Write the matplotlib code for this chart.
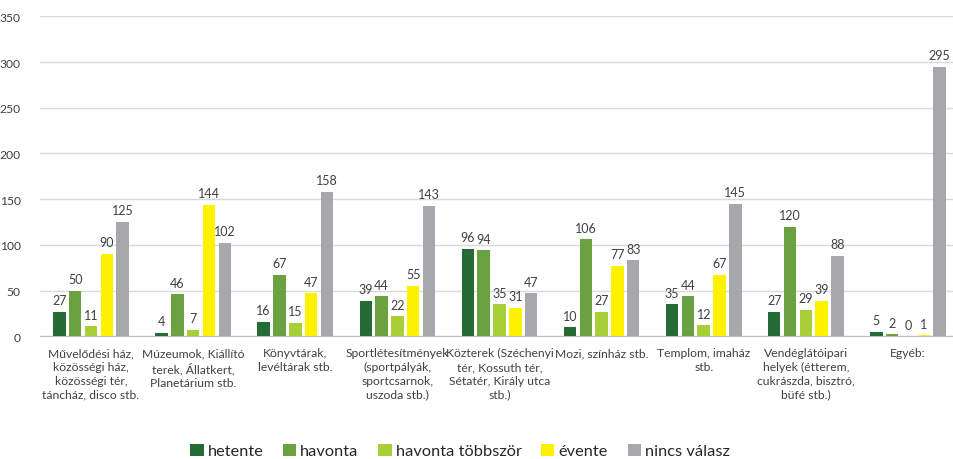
import matplotlib.pyplot as plt
import numpy as np

# Data
categories = [
    "Művelődési ház,\nközösségi ház,\nközösségi tér,\ntáncház, disco stb.",
    "Múzeumok, Kiállító\nterek, Állatkert,\nPlanetárium stb.",
    "Könyvtárak,\nlevéltárak stb.",
    "Sportlétesítmények\n(sportpályák,\nsportcsarnok,\nuszoda stb.)",
    "Közterek (Széchenyi\ntér, Kossuth tér,\nSétatér, Király utca\nstb.)",
    "Mozi, színház stb.",
    "Templom, imaház\nstb.",
    "Vendéglátóipari\nhelyek (étterem,\ncukrászda, bisztró,\nbüfé stb.)",
    "Egyéb:",
]
series_names = ["hetente", "havonta", "havonta többször", "évente", "nincs válasz"]
hetente = [27, 4, 16, 39, 96, 10, 35, 27, 5]
havonta = [50, 46, 67, 44, 94, 106, 44, 120, 2]
havonta_tobbszor = [11, 7, 15, 22, 35, 27, 12, 29, 0]
evente = [90, 144, 47, 55, 31, 77, 67, 39, 1]
nincs_valasz = [125, 102, 158, 143, 47, 83, 145, 88, 295]
y_ticks = [0, 50, 100, 150, 200, 250, 300, 350]

colors = ["#246B35", "#6AA242", "#A8CF38", "#FFF200", "#A7A8AB"]
plt.rcParams['font.family'] = ['Lato', 'DejaVu Sans']

fig = plt.figure(figsize=(9.54, 4.6), dpi=100)
ax = fig.add_axes([40/954, 122.7/460, 919/954, 320/460])

x = np.arange(len(categories))
step = 0.155
width = 0.122
all_series = [hetente, havonta, havonta_tobbszor, evente, nincs_valasz]
for i, vals in enumerate(all_series):
    pos = x + (i - 2) * step
    ax.bar(pos, vals, width, color=colors[i], label=series_names[i], zorder=3)
    for xp, v in zip(pos, vals):
        ax.annotate(str(v), (xp, v), xytext=(0, 4), textcoords='offset points',
                    ha='center', va='bottom', fontsize=9, color='#404040')

ax.set_xlim(-0.5, len(categories) - 0.5)
ax.set_ylim(0, 350)
ax.set_yticks(y_ticks)
ax.set_xticks(x)
ax.set_xticklabels(categories, fontsize=8.7, color='#404040', linespacing=1.3, va='top')
ax.tick_params(axis='both', length=0, labelsize=8.7, colors='#404040')
ax.tick_params(axis='x', pad=8)
ax.tick_params(axis='y', pad=14)
ax.grid(axis='y', color='#D9D9D9', linewidth=1, zorder=0)
for s in ['top', 'right', 'left']:
    ax.spines[s].set_visible(False)
ax.spines['bottom'].set_color('#BFBFBF')

ax.legend(loc='center', bbox_to_anchor=(460/954, 8/460), bbox_transform=fig.transFigure,
          ncol=5, frameon=False, fontsize=11.8, handlelength=0.8, handleheight=0.8,
          handletextpad=0.25, columnspacing=1.2, labelcolor='#262626')

fig.savefig('out.png', dpi=100)
